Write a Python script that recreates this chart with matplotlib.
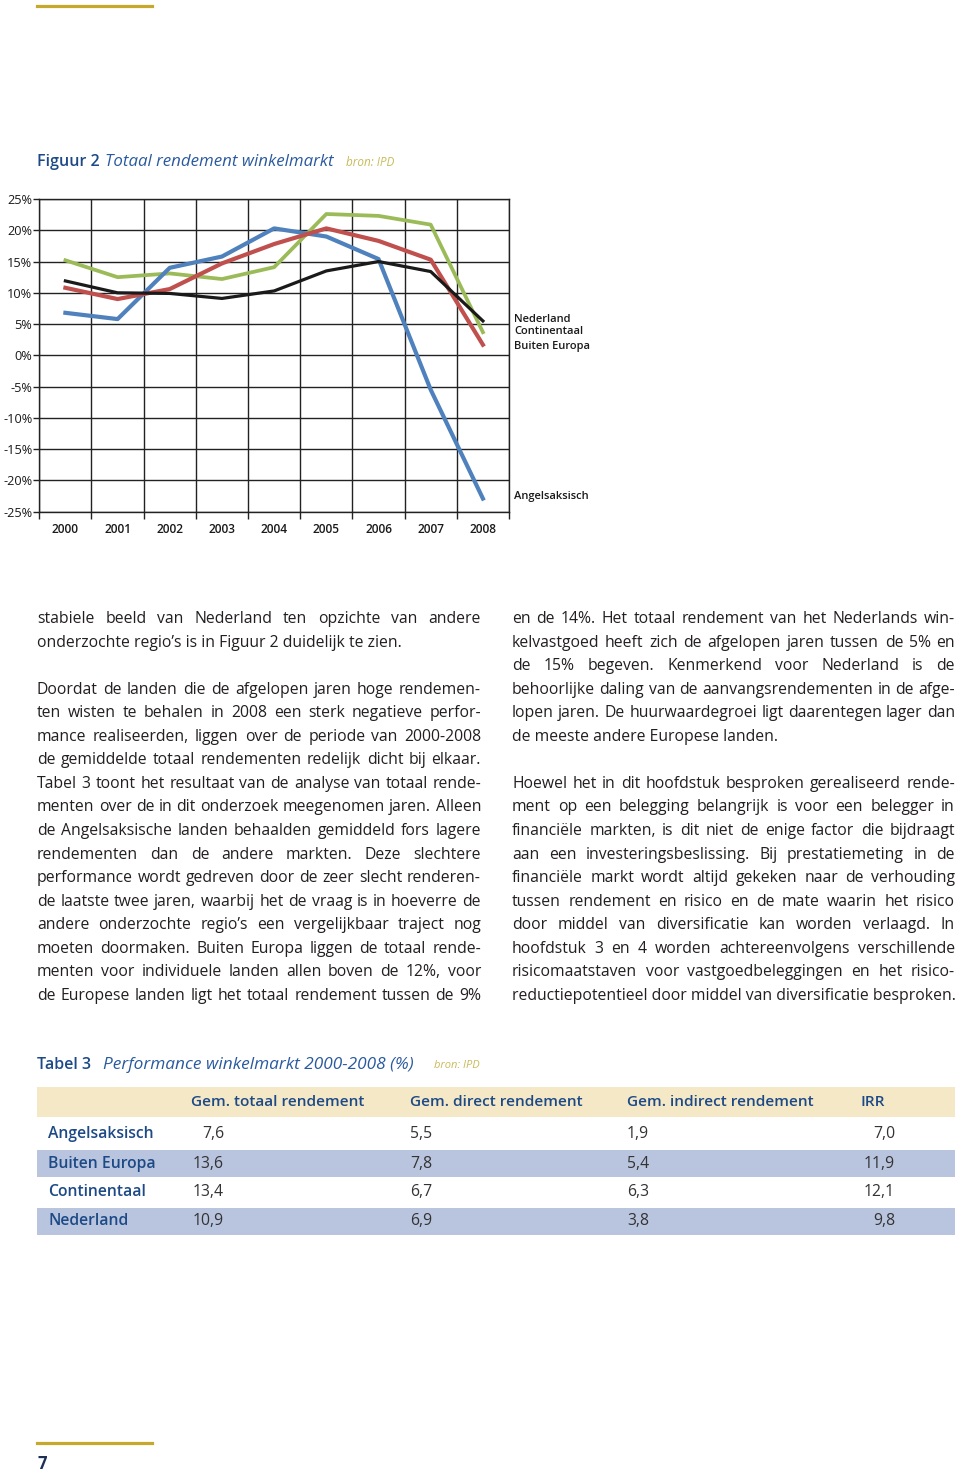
import matplotlib
matplotlib.use('Agg')
import matplotlib.pyplot as plt
from matplotlib.font_manager import FontProperties
from matplotlib.lines import Line2D
from matplotlib.patches import Rectangle
import numpy as np

W, H = 960, 1473

# chart data (total return, %)
years = ['2000', '2001', '2002', '2003', '2004', '2005', '2006', '2007', '2008']
angelsaksisch = [6.8, 5.8, 14.0, 15.8, 20.3, 19.0, 15.4, -5.5, -22.9]
continentaal = [10.8, 9.0, 10.6, 14.7, 17.8, 20.3, 18.3, 15.3, 1.7]
buiten_europa = [15.2, 12.5, 13.1, 12.2, 14.1, 22.6, 22.3, 20.9, 3.7]
nederland = [11.9, 10.0, 9.9, 9.1, 10.3, 13.5, 15.0, 13.4, 5.5]
y_ticks = [-25, -20, -15, -10, -5, 0, 5, 10, 15, 20, 25]

# table data
table_cols = ['Gem. totaal rendement', 'Gem. direct rendement',
              'Gem. indirect rendement', 'IRR']
table_rows = ['Angelsaksisch', 'Buiten Europa', 'Continentaal', 'Nederland']
gem_totaal = [7.6, 13.6, 13.4, 10.9]
gem_direct = [5.5, 7.8, 6.7, 6.9]
gem_indirect = [1.9, 5.4, 6.3, 3.8]
irr = [7.0, 11.9, 12.1, 9.8]

left_lines = [
    "stabiele beeld van Nederland ten opzichte van andere",
    "onderzochte regio’s is in Figuur 2 duidelijk te zien.",
    "",
    "Doordat de landen die de afgelopen jaren hoge rendemen-",
    "ten wisten te behalen in 2008 een sterk negatieve perfor-",
    "mance realiseerden, liggen over de periode van 2000-2008",
    "de gemiddelde totaal rendementen redelijk dicht bij elkaar.",
    "Tabel 3 toont het resultaat van de analyse van totaal rende-",
    "menten over de in dit onderzoek meegenomen jaren. Alleen",
    "de Angelsaksische landen behaalden gemiddeld fors lagere",
    "rendementen dan de andere markten. Deze slechtere",
    "performance wordt gedreven door de zeer slecht renderen-",
    "de laatste twee jaren, waarbij het de vraag is in hoeverre de",
    "andere onderzochte regio’s een vergelijkbaar traject nog",
    "moeten doormaken. Buiten Europa liggen de totaal rende-",
    "menten voor individuele landen allen boven de 12%, voor",
    "de Europese landen ligt het totaal rendement tussen de 9%",
]
right_lines = [
    "en de 14%. Het totaal rendement van het Nederlands win-",
    "kelvastgoed heeft zich de afgelopen jaren tussen de 5% en",
    "de 15% begeven. Kenmerkend voor Nederland is de",
    "behoorlijke daling van de aanvangsrendementen in de afge-",
    "lopen jaren. De huurwaardegroei ligt daarentegen lager dan",
    "de meeste andere Europese landen.",
    "",
    "Hoewel het in dit hoofdstuk besproken gerealiseerd rende-",
    "ment op een belegging belangrijk is voor een belegger in",
    "financiële markten, is dit niet de enige factor die bijdraagt",
    "aan een investeringsbeslissing. Bij prestatiemeting in de",
    "financiële markt wordt altijd gekeken naar de verhouding",
    "tussen rendement en risico en de mate waarin het risico",
    "door middel van diversificatie kan worden verlaagd. In",
    "hoofdstuk 3 en 4 worden achtereenvolgens verschillende",
    "risicomaatstaven voor vastgoedbeleggingen en het risico-",
    "reductiepotentieel door middel van diversificatie besproken.",
]

FONT = 'Open Sans'
NAVY = '#1d4a86'
BLUE_T = '#2a5a9e'
OLIVE = '#c8bb5a'
GOLD = '#c6a92c'
BODY = '#231f20'

plt.rcParams['font.family'] = FONT


def fx(x):
    return x / W


def fy(y):
    return 1 - y / H


fig = plt.figure(figsize=(W / 100, H / 100), dpi=100)
fig.canvas.draw()
rend = fig.canvas.get_renderer()


def text_w(s, fp):
    w, h, d = rend.get_text_width_height_descent(s, fp, ismath=False)
    return w


# decorative gold rules
for yy in (6, 1443):
    fig.add_artist(Line2D([fx(37), fx(152)], [fy(yy), fy(yy)], color=GOLD, lw=2.3))
fig.text(fx(37), fy(1464), '7', color='#1d2f55', fontsize=12, fontweight='bold', va='center')

# figure title
fig.text(fx(37), fy(162), 'Figuur 2', color=NAVY, fontsize=11.5, fontweight='semibold', va='center')
fig.text(fx(105), fy(162), 'Totaal rendement winkelmarkt', color=BLUE_T, fontsize=12.2,
         style='italic', va='center')
fig.text(fx(346), fy(163), 'bron: IPD', color=OLIVE, fontsize=8.5, style='italic', va='center')

# chart
ax = fig.add_axes([fx(39.3), fy(511.7), (509 - 39.3) / W, (511.7 - 199) / H])
x = np.arange(len(years))
ax.plot(x, buiten_europa, color='#9bbb59', lw=2.7)
ax.plot(x, angelsaksisch, color='#4f81bd', lw=3.0)
ax.plot(x, continentaal, color='#c0504d', lw=3.0)
ax.plot(x, nederland, color='#1a1a1a', lw=2.3)
ax.set_xlim(-0.5, len(years) - 0.5)
ax.set_ylim(-25, 25)
ax.set_xticks(x)
ax.set_xticklabels(years, fontsize=8.6, fontweight='semibold', color='#1a1a1a')
ax.set_xticks(np.arange(len(years) + 1) - 0.5, minor=True)
ax.set_yticks(y_ticks)
ax.set_yticklabels([f'{v}%' for v in y_ticks], fontsize=9.2, color='#1a1a1a')
ax.tick_params(axis='x', which='major', length=0, pad=8)
ax.tick_params(axis='x', which='minor', length=5, width=1, direction='out', color='#222222')
ax.tick_params(axis='y', which='major', length=4, width=1, direction='out', pad=1, color='#222222')
ax.grid(True, axis='y', which='major', color='#222222', lw=1.0)
ax.grid(True, axis='x', which='minor', color='#222222', lw=1.0)
ax.set_axisbelow(True)
for sp in ax.spines.values():
    sp.set_color('#222222')
    sp.set_linewidth(1.0)

lab_kw = dict(fontsize=8.0, fontweight='semibold', color='#1a1a1a', va='center')
fig.text(fx(514), fy(319), 'Nederland', **lab_kw)
fig.text(fx(514), fy(332), 'Continentaal', **lab_kw)
fig.text(fx(514), fy(346), 'Buiten Europa', **lab_kw)
fig.text(fx(514), fy(497), 'Angelsaksisch', **lab_kw)

# body text, justified
COL_L = (37, 481)
COL_R = (512, 955)
BASE0 = 623
LINE = 23.56

fp0 = FontProperties(family=FONT, size=10)
natural = max(text_w(l, fp0) for l in left_lines + right_lines if l)
body_size = 10 * (COL_L[1] - COL_L[0]) / natural * 0.995
body_fp = FontProperties(family=FONT, size=body_size)


def draw_column(lines, col, last_open):
    x0, x1 = col
    for i, line in enumerate(lines):
        if not line:
            continue
        y = BASE0 + i * LINE
        is_last = (i + 1 == len(lines)) or not lines[i + 1]
        justify = not is_last or (i + 1 == len(lines) and last_open)
        words = line.split(' ')
        if justify and len(words) > 1:
            ws = [text_w(w, body_fp) for w in words]
            gap = (x1 - x0 - sum(ws)) / (len(words) - 1)
            xx = x0
            for w, wd in zip(words, ws):
                fig.text(fx(xx), fy(y), w, fontproperties=body_fp, color=BODY, va='baseline')
                xx += wd + gap
        else:
            fig.text(fx(x0), fy(y), line, fontproperties=body_fp, color=BODY, va='baseline')


draw_column(left_lines, COL_L, True)
draw_column(right_lines, COL_R, False)

# table
fig.text(fx(37), fy(1065), 'Tabel 3', color=NAVY, fontsize=11.5, fontweight='semibold', va='center')
fig.text(fx(103), fy(1065), 'Performance winkelmarkt 2000-2008 (%)', color=BLUE_T,
         fontsize=12.4, style='italic', va='center')
fig.text(fx(434), fy(1066), 'bron: IPD', color=OLIVE, fontsize=8, style='italic', va='center')

fig.add_artist(Rectangle((fx(37), fy(1117)), (955 - 37) / W, 30 / H,
                         transform=fig.transFigure, color='#f4e8c7', lw=0))
row_y = [1134, 1163.5, 1192.5, 1221]
for i, yy in enumerate(row_y):
    if i % 2 == 1:
        fig.add_artist(Rectangle((fx(37), fy(yy + 13.5)), (955 - 37) / W, 27 / H,
                                 transform=fig.transFigure, color='#b9c4de', lw=0))

head_x = [191, 410, 627, 861]
for cx, c in zip(head_x, table_cols):
    fig.text(fx(cx), fy(1101.5), c, color=NAVY, fontsize=11.1, fontweight='semibold', va='center')

cols_vals = [gem_totaal, gem_direct, gem_indirect, irr]
val_x = [(224, 'right'), (410, 'left'), (627, 'left'), (895, 'right')]


def fmt(v):
    return f'{v:.1f}'.replace('.', ',')


for i, (name, yy) in enumerate(zip(table_rows, row_y)):
    fig.text(fx(48), fy(yy), name, color=NAVY, fontsize=11.3, fontweight='semibold', va='center')
    for vals, (vx, ha) in zip(cols_vals, val_x):
        fig.text(fx(vx), fy(yy), fmt(vals[i]), color='#333333', fontsize=11.3,
                 ha=ha, va='center')

fig.savefig('out.png', dpi=100)
